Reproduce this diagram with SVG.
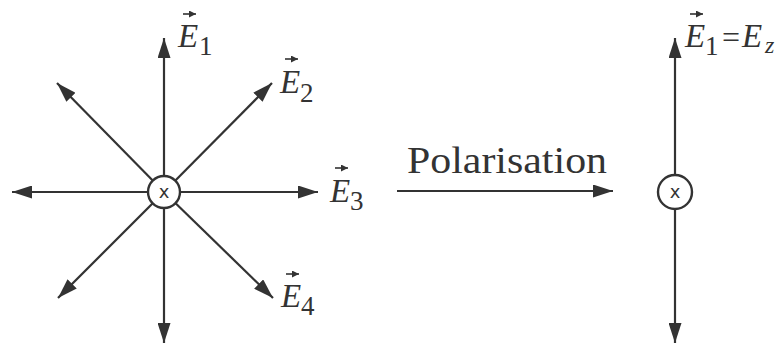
<svg xmlns="http://www.w3.org/2000/svg" width="781" height="346" viewBox="0 0 781 346">
<style>
.ln{stroke:#333;stroke-width:2.2;fill:none}
.vec{stroke:#333;stroke-width:1.6;fill:none}
.src{fill:#fff;stroke:#333;stroke-width:2.4}
.x{font-family:'DejaVu Sans',sans-serif;font-size:18px;fill:#333;text-anchor:middle}
.E{font-family:'Liberation Serif','Times New Roman','Noto Serif','DejaVu Serif',Times,serif;font-style:italic;font-size:33px;fill:#333}
.sub{font-family:'Liberation Serif','Times New Roman','Noto Serif','DejaVu Serif',Times,serif;font-size:27px;fill:#333}
.t{font-family:'Liberation Serif','Times New Roman','Noto Serif','DejaVu Serif',Times,serif;font-size:37px;fill:#333}
</style>
<defs>
<marker id="ah" markerUnits="userSpaceOnUse" markerWidth="20" markerHeight="13" refX="20" refY="6.5" orient="auto">
<path d="M0,0 L20,6.5 L0,13 Z" fill="#333"/>
</marker>
<marker id="vh" markerUnits="userSpaceOnUse" markerWidth="7" markerHeight="7" refX="7" refY="3.5" orient="auto">
<path d="M0,0 L7,3.5 L0,7 Z" fill="#333"/>
</marker>
</defs>
<g id="connectors">
<line class="ln" x1="164" y1="192" x2="164" y2="38" marker-end="url(#ah)"/>
<line class="ln" x1="164" y1="192" x2="164" y2="343" marker-end="url(#ah)"/>
<line class="ln" x1="164" y1="192" x2="12" y2="192" marker-end="url(#ah)"/>
<line class="ln" x1="164" y1="192" x2="318" y2="192" marker-end="url(#ah)"/>
<line class="ln" x1="164" y1="192" x2="57" y2="83" marker-end="url(#ah)"/>
<line class="ln" x1="164" y1="192" x2="272" y2="83" marker-end="url(#ah)"/>
<line class="ln" x1="164" y1="192" x2="58" y2="298" marker-end="url(#ah)"/>
<line class="ln" x1="164" y1="192" x2="273" y2="298" marker-end="url(#ah)"/>
<line class="ln" x1="397" y1="191" x2="613" y2="191" marker-end="url(#ah)"/>
<line class="ln" x1="675" y1="192" x2="675" y2="38" marker-end="url(#ah)"/>
<line class="ln" x1="675" y1="192" x2="675" y2="343" marker-end="url(#ah)"/>
</g>
<g id="source-left">
<circle class="src" cx="164" cy="192" r="16"/>
<text class="x" x="164" y="198">x</text>
</g>
<g id="source-right">
<circle class="src" cx="675" cy="192" r="17"/>
<text class="x" x="675" y="198">x</text>
</g>
<g id="label-E1">
<line class="vec" x1="183" y1="14" x2="196" y2="14" marker-end="url(#vh)"/>
<text class="E" x="178" y="47">E</text>
<text class="sub" x="199" y="55">1</text>
</g>
<g id="label-E2">
<line class="vec" x1="285" y1="59" x2="298" y2="59" marker-end="url(#vh)"/>
<text class="E" x="280" y="93">E</text>
<text class="sub" x="300" y="102">2</text>
</g>
<g id="label-E3">
<line class="vec" x1="335" y1="168" x2="348" y2="168" marker-end="url(#vh)"/>
<text class="E" x="330" y="202">E</text>
<text class="sub" x="350" y="210">3</text>
</g>
<g id="label-E4">
<line class="vec" x1="286" y1="274" x2="299" y2="274" marker-end="url(#vh)"/>
<text class="E" x="281" y="307">E</text>
<text class="sub" x="301" y="315">4</text>
</g>
<g id="label-polarisation">
<text class="t" x="407" y="173" textLength="200" lengthAdjust="spacingAndGlyphs">Polarisation</text>
</g>
<g id="label-E1-Ez">
<line class="vec" x1="690" y1="14" x2="703" y2="14" marker-end="url(#vh)"/>
<text class="E" x="685" y="47">E</text>
<text class="sub" x="705" y="55">1</text>
<text class="sub" x="722" y="48" style="font-size:32px">=</text>
<text class="E" x="742" y="47">E</text>
<text class="E" x="765" y="53" style="font-size:24px">z</text>
</g>
</svg>
